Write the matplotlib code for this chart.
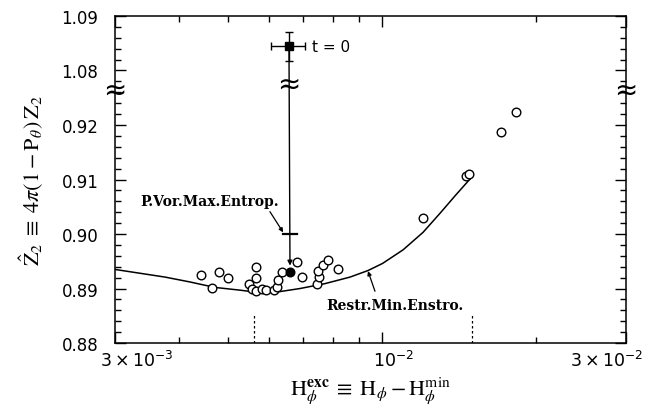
import numpy as np
import matplotlib
matplotlib.use("Agg")
import matplotlib.pyplot as plt
import matplotlib.transforms as mtransforms
from matplotlib.ticker import FixedLocator, NullFormatter

# open circles (simulation end states)
pts_x = [4.42e-3, 4.64e-3, 4.79e-3, 4.99e-3, 5.49e-3, 5.56e-3, 5.66e-3, 5.66e-3,
         5.66e-3, 5.82e-3, 5.93e-3, 6.14e-3, 6.23e-3, 6.25e-3, 6.37e-3, 6.81e-3,
         6.97e-3, 7.46e-3, 7.52e-3, 7.49e-3, 7.66e-3, 7.83e-3, 8.20e-3, 1.202e-2,
         1.459e-2, 1.479e-2, 1.708e-2, 1.828e-2]
pts_y = [0.8924, 0.8901, 0.8930, 0.8919, 0.8908, 0.8899, 0.8939, 0.8919,
         0.8895, 0.8899, 0.8897, 0.8897, 0.8902, 0.8915, 0.8930, 0.8948,
         0.8922, 0.8908, 0.8921, 0.8932, 0.8943, 0.8952, 0.8935, 0.9029,
         0.9107, 0.9111, 0.9188, 0.9224]

# restricted minimum enstrophy curve
curve_x = [3.000e-3, 3.358e-3, 3.758e-3, 4.207e-3, 4.708e-3, 5.270e-3, 5.689e-3,
           6.170e-3, 6.905e-3, 7.729e-3, 8.651e-3, 9.381e-3, 1.0015e-2,
           1.0987e-2, 1.2019e-2, 1.2975e-2, 1.3944e-2, 1.4987e-2]
curve_y = [0.8935, 0.8928, 0.8921, 0.8912, 0.8902, 0.8897, 0.8893,
           0.8893, 0.8900, 0.8909, 0.8921, 0.8933, 0.8946,
           0.8971, 0.9003, 0.9038, 0.9072, 0.9105]

# initial state and final (filled) state
t0_x, t0_y = 6.57e-3, 1.0844
t0_xerr, t0_yerr = 0.5e-3, 0.0026
end_x, end_y = 6.6e-3, 0.8930
pvor_x = [6.40e-3, 6.81e-3]
pvor_y = 0.900

dotted_x = [5.61e-3, 1.50e-2]

yticks = [0.88, 0.89, 0.90, 0.91, 0.92, 1.08, 1.09]
ytick_labels = ["0.88", "0.89", "0.90", "0.91", "0.92", "1.08", "1.09"]
xticks = [3e-3, 1e-2, 3e-2]
xtick_labels = [r"$3\times10^{-3}$", r"$10^{-2}$", r"$3\times10^{-2}$"]


def fwd(y):
    y = np.asarray(y, dtype=float)
    return np.where(y > 1.0, y - 0.15, y)


def inv(v):
    v = np.asarray(v, dtype=float)
    return np.where(v > 0.925, v + 0.15, v)


plt.rcParams["mathtext.fontset"] = "stix"
plt.rcParams["font.family"] = "DejaVu Sans"

fig = plt.figure(figsize=(6.56, 4.14), dpi=100)
ax = fig.add_axes([0.1753, 0.169, 0.779, 0.790])
ax.set_xscale("log")
ax.set_yscale("function", functions=(fwd, inv))
ax.set_xlim(3e-3, 3e-2)
ax.set_ylim(0.88, 1.09)

ax.plot(curve_x, curve_y, color="black", lw=1.1)
ax.plot(pts_x, pts_y, "o", ms=6.2, mfc="white", mec="black", mew=1.0)

# trajectory from t=0 down to final state
ax.annotate("", xy=(end_x, end_y + 0.0012), xytext=(t0_x, t0_y),
            arrowprops=dict(arrowstyle="-|>", color="black", lw=1.0,
                            mutation_scale=7, shrinkA=0, shrinkB=0))
ax.plot([end_x], [end_y], "o", ms=6.2, color="black")
ax.errorbar([t0_x], [t0_y], xerr=[t0_xerr], yerr=[t0_yerr], fmt="s", ms=6,
            color="black", capsize=3, lw=1.0)
ax.plot(pvor_x, [pvor_y, pvor_y], color="black", lw=1.6)

ax.text(7.3e-3, t0_y, "t = 0", fontsize=11, va="center", ha="left")

for xv in dotted_x:
    ax.plot([xv, xv], [0.88, 0.8855], color="black", lw=0.9, ls=(0, (2, 2)))

# annotations
ax.text(4.60e-3, 0.9061, "P.Vor.Max.Entrop.", fontsize=10, family="DejaVu Serif",
        fontweight="bold", ha="center", va="center")
ax.annotate("", xy=(6.40e-3, 0.9003), xytext=(6.03e-3, 0.9041),
            arrowprops=dict(arrowstyle="-|>", color="black", lw=0.9,
                            mutation_scale=6, shrinkA=0, shrinkB=0))
ax.text(1.059e-2, 0.8869, "Restr.Min.Enstro.", fontsize=10, family="DejaVu Serif",
        fontweight="bold", ha="center", va="center")
ax.annotate("", xy=(9.38e-3, 0.8932), xytext=(9.68e-3, 0.8895),
            arrowprops=dict(arrowstyle="-|>", color="black", lw=0.9,
                            mutation_scale=6, shrinkA=0, shrinkB=0))

# axis break marks
for xa in (0.0, 1.0):
    ax.text(xa, 0.775, "≈", transform=ax.transAxes, fontsize=20,
            ha="center", va="center")
ax.text(t0_x, 0.9275, "≈", fontsize=20, ha="center", va="center")

ax.xaxis.set_major_locator(FixedLocator(xticks))
ax.set_xticklabels(xtick_labels, math_fontfamily="dejavusans", fontsize=12.5)
ax.xaxis.set_minor_locator(FixedLocator([4e-3, 5e-3, 6e-3, 7e-3, 8e-3, 9e-3, 2e-2]))
ax.xaxis.set_minor_formatter(NullFormatter())

ax.yaxis.set_major_locator(FixedLocator(yticks))
ax.set_yticklabels(ytick_labels, fontsize=12)
yminor = [round(v, 3) for v in np.arange(0.882, 0.925, 0.002)] + \
         [1.076, 1.078, 1.082, 1.084, 1.086, 1.088]
ax.yaxis.set_minor_locator(FixedLocator(yminor))
ax.yaxis.set_minor_formatter(NullFormatter())

ax.tick_params(which="both", direction="in", top=True, right=True, width=1.0)
ax.tick_params(which="major", length=8)
ax.tick_params(which="minor", length=4)
ax.tick_params(axis="y", which="major", pad=12)
ax.tick_params(axis="x", which="major", pad=5)
for s in ax.spines.values():
    s.set_linewidth(1.1)

# shift the x tick labels like the reference
xlabels = ax.get_xticklabels()
shifts = [(-15, "left"), (11, "center"), (17, "right")]
for lab, (dx, ha) in zip(xlabels, shifts):
    lab.set_horizontalalignment(ha)
    lab.set_transform(lab.get_transform() +
                      mtransforms.ScaledTranslation(dx / 100, 0, fig.dpi_scale_trans))

ax.set_xlabel(r"$\mathrm{H}_{\phi}^{\mathbf{exc}}\;\equiv\;\mathrm{H}_{\phi}-\mathrm{H}_{\phi}^{\mathrm{min}}$",
              fontsize=16, labelpad=3)
ax.set_ylabel(r"$\hat{\mathrm{Z}}_2\;\equiv\;4\pi(1-\mathrm{P}_{\theta})\,\mathrm{Z}_2$",
              fontsize=16, labelpad=12)

fig.savefig("out.png", dpi=100)
